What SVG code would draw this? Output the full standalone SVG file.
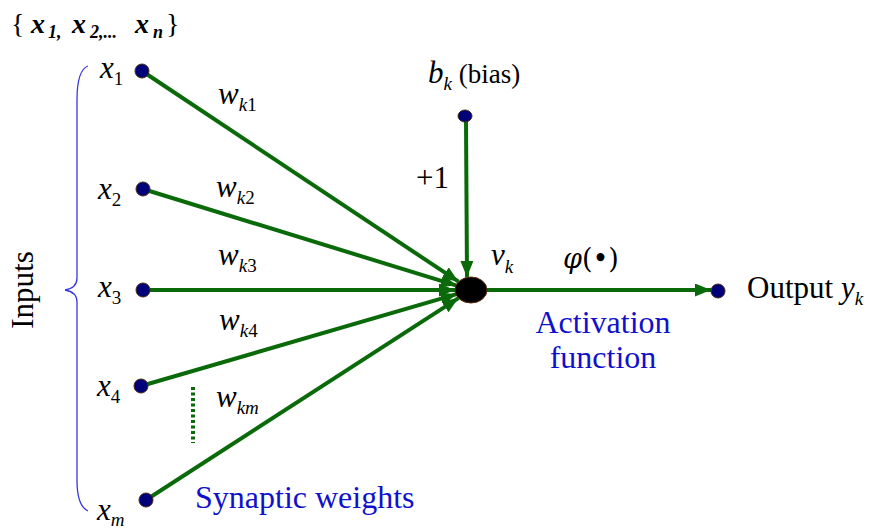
<svg xmlns="http://www.w3.org/2000/svg" width="879" height="530" viewBox="0 0 879 530">
<defs>
<marker id="ah" markerUnits="userSpaceOnUse" markerWidth="18" markerHeight="14" refX="16" refY="6.5" orient="auto">
<path d="M0,0 L16,6.5 L0,13 Z" fill="#0a6a0a"/>
</marker>
</defs>
<g id="header"><text font-family="Liberation Serif" font-style="italic" font-weight="bold" font-size="28" y="33"><tspan x="11" font-style="normal" font-weight="normal">{</tspan><tspan x="31">x</tspan><tspan x="48" dy="5" font-size="18">1,</tspan><tspan x="72" dy="-5">x</tspan><tspan x="90" dy="5" font-size="18">2,...</tspan><tspan x="135" dy="-5">x</tspan><tspan x="153" dy="5" font-size="18">n</tspan><tspan x="166" dy="-5" font-style="normal" font-weight="normal">}</tspan></text></g>
<g id="inputs-brace">
<path d="M88,66 Q77,70 77,100 L77,278 Q77,288 65,290 Q77,292 77,302 L77,480 Q77,506 88,511" fill="none" stroke="#3838e0" stroke-width="1.3"/>
<text font-family="Liberation Serif" font-size="31" transform="translate(33,290) rotate(-90)" text-anchor="middle">Inputs</text>
</g>
<g id="connectors" stroke="#0a6a0a" stroke-width="4" fill="none">
<line x1="142" y1="71" x2="458.5" y2="281.7" marker-end="url(#ah)"/>
<line x1="143" y1="189" x2="456.7" y2="285.6" marker-end="url(#ah)"/>
<line x1="143" y1="290" x2="455" y2="290" marker-end="url(#ah)"/>
<line x1="141" y1="386" x2="456.6" y2="294.2" marker-end="url(#ah)"/>
<line x1="146" y1="500" x2="458.4" y2="298.1" marker-end="url(#ah)"/>
<line x1="466" y1="120" x2="467" y2="277" marker-end="url(#ah)"/>
<line x1="486" y1="290" x2="711" y2="290" marker-end="url(#ah)"/>
<line x1="193" y1="387" x2="193" y2="443" stroke-dasharray="3 2.5"/>
</g>
<g id="x1"><circle cx="142" cy="71" r="7" fill="#00007a" stroke="#4a2a10" stroke-width="1"/><text font-family="Liberation Serif" font-style="italic" font-size="31" x="100" y="78">x<tspan font-size="19" font-style="normal" dy="7">1</tspan></text></g>
<g id="x2"><circle cx="143" cy="189" r="7" fill="#00007a" stroke="#4a2a10" stroke-width="1"/><text font-family="Liberation Serif" font-style="italic" font-size="31" x="98" y="199">x<tspan font-size="19" font-style="normal" dy="7">2</tspan></text></g>
<g id="x3"><circle cx="143" cy="290" r="7" fill="#00007a" stroke="#4a2a10" stroke-width="1"/><text font-family="Liberation Serif" font-style="italic" font-size="31" x="98" y="297">x<tspan font-size="19" font-style="normal" dy="7">3</tspan></text></g>
<g id="x4"><circle cx="141" cy="386" r="7" fill="#00007a" stroke="#4a2a10" stroke-width="1"/><text font-family="Liberation Serif" font-style="italic" font-size="31" x="97" y="396">x<tspan font-size="19" font-style="normal" dy="7">4</tspan></text></g>
<g id="xm"><circle cx="146" cy="500" r="7" fill="#00007a" stroke="#4a2a10" stroke-width="1"/><text font-family="Liberation Serif" font-style="italic" font-size="31" x="97" y="520">x<tspan font-size="19" dy="6">m</tspan></text></g>
<g id="weights">
<text font-family="Liberation Serif" font-style="italic" font-size="31" x="218" y="104">w<tspan font-size="19" dy="7">k</tspan><tspan font-size="19" font-style="normal">1</tspan></text>
<text font-family="Liberation Serif" font-style="italic" font-size="31" x="216" y="197">w<tspan font-size="19" dy="7">k</tspan><tspan font-size="19" font-style="normal">2</tspan></text>
<text font-family="Liberation Serif" font-style="italic" font-size="31" x="218" y="265">w<tspan font-size="19" dy="7">k</tspan><tspan font-size="19" font-style="normal">3</tspan></text>
<text font-family="Liberation Serif" font-style="italic" font-size="31" x="219" y="330">w<tspan font-size="19" dy="7">k</tspan><tspan font-size="19" font-style="normal">4</tspan></text>
<text font-family="Liberation Serif" font-style="italic" font-size="31" x="216" y="407">w<tspan font-size="19" dy="7">km</tspan></text>
<text font-family="Liberation Serif" font-size="32" fill="#1010cc" x="195" y="508">Synaptic weights</text>
</g>
<g id="bias"><ellipse cx="465" cy="116" rx="7" ry="6" fill="#00007a" stroke="#4a2a10" stroke-width="1"/><text font-family="Liberation Serif" font-size="31" x="428" y="83"><tspan font-style="italic">b</tspan><tspan font-style="italic" font-size="19" dy="7">k</tspan><tspan dy="-7" font-size="27"> (bias)</tspan></text><text font-family="Liberation Serif" font-size="31" x="416" y="188">+1</text></g>
<g id="sum"><ellipse cx="471" cy="290" rx="16" ry="13" fill="#000" stroke="#5a2a08" stroke-width="1"/><text font-family="Liberation Serif" font-style="italic" font-size="31" x="491" y="265">v<tspan font-size="19" dy="8">k</tspan></text></g>
<g id="activation"><text font-family="DejaVu Serif" font-size="27" x="563" y="268"><tspan font-style="italic">φ</tspan>(•)</text>
<text font-family="Liberation Serif" font-size="32" fill="#1010cc" x="603" y="333" text-anchor="middle">Activation</text>
<text font-family="Liberation Serif" font-size="32" fill="#1010cc" x="603" y="368" text-anchor="middle">function</text></g>
<g id="output"><circle cx="718" cy="291" r="7" fill="#00007a" stroke="#4a2a10" stroke-width="1"/><text font-family="Liberation Serif" font-size="31" x="747" y="298">Output <tspan font-style="italic">y</tspan><tspan font-style="italic" font-size="19" dy="7">k</tspan></text></g>
</svg>
